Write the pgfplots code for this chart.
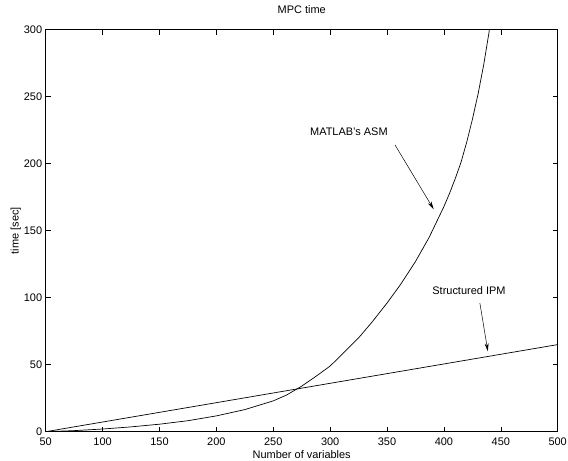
\documentclass[border=0pt]{standalone}
\usepackage{fontspec}
\setmainfont{Liberation Sans}
\usepackage{pgfplots}
\pgfplotsset{compat=1.18}
\usetikzlibrary{arrows.meta}
\begin{document}
\begin{tikzpicture}
% page frame: axis box sits at (0,0)-(512,402) inside a 568x461 page
\path[use as bounding box] (-45.7bp,-29.3bp) rectangle (522.3bp,431.7bp);
\begin{axis}[
  at={(0,0)}, anchor=south west,
  scale only axis,
  width=512bp, height=402bp,
  xmin=50, xmax=500, ymin=0, ymax=300,
  xtick={50,100,...,500},
  ytick={0,50,...,300},
  tick align=inside,
  major tick length=5bp,
  tick style={line width=0.6pt, black},
  axis line style={line width=1pt},
  font=\fontsize{11}{13}\selectfont,
  /pgf/number format/assume math mode=true,
  xticklabel style={anchor=base, yshift=-14bp},
  title={MPC time},
  title style={at={(axis description cs:0.5,1)}, anchor=base, yshift=10bp},
  xlabel={Number of variables},
  xlabel style={at={(axis description cs:0.5,0)}, anchor=base, yshift=-27bp},
  ylabel={time [sec]},
  ylabel style={at={(axis description cs:0,0.5)}, anchor=center, yshift=30bp},
  clip=true,
]
% Structured IPM
\addplot[black, line width=0.7pt] coordinates {(50,0) (500,65)};
% MATLAB's ASM
\addplot[black, line width=0.7pt] coordinates {
  (50,0) (75,0.8) (100,2) (125,3.6) (150,5.6) (175,8.2) (200,11.8)
  (225,16.5) (250,23) (262,27.5) (275,34) (287,41) (300,49) (312,59)
  (325,70) (337,82) (350,96) (362,110) (375,127) (387,145) (400,168)
  (405,178) (410,189) (415,201) (420,216) (425,233) (430,252)
  (435,274) (440,300) (442,312)
};
\node at (axis cs:316.5,223.6) {MATLAB's ASM};
\draw[-{Stealth[length=8bp,width=4bp]}, line width=0.5pt]
  (axis cs:357,214) -- (axis cs:391,166);
\node at (axis cs:422,105) {Structured IPM};
\draw[-{Stealth[length=8bp,width=4bp]}, line width=0.5pt]
  (axis cs:431.6,96) -- (axis cs:438.6,60);
\end{axis}
\end{tikzpicture}
\end{document}
